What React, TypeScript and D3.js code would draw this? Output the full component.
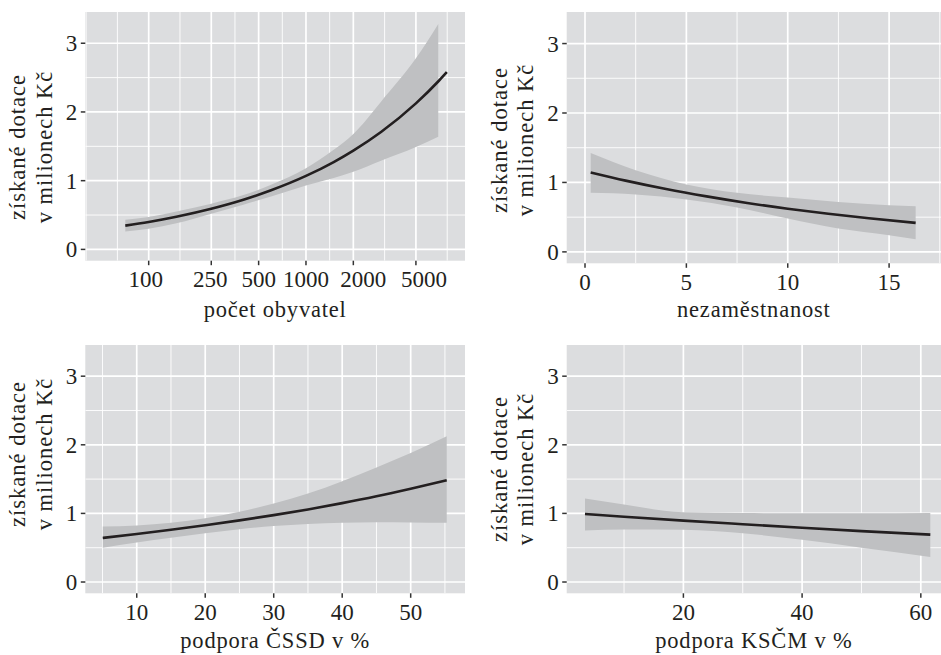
import React from "react";
import * as d3 from "d3";

// ---------- data ----------
const yTicks = [0, 1, 2, 3];
const yTitleLine1 = "získané dotace";
const yTitleLine2 = "v milionech Kč";

// panel 1: počet obyvatel (log scale)
const popTicks = [100, 250, 500, 1000, 2000, 5000];
const popX = [71, 100, 150, 250, 400, 600, 1000, 1500, 2000, 3000, 5000, 7000, 7870];
const popFit = [0.346, 0.4, 0.476, 0.592, 0.723, 0.86, 1.069, 1.271, 1.438, 1.709, 2.125, 2.454, 2.581];
const popBandX = [71, 100, 150, 250, 400, 600, 1000, 1500, 2000, 3000, 5000, 6935];
const popLow = [0.26, 0.3, 0.38, 0.52, 0.65, 0.77, 0.93, 1.04, 1.13, 1.29, 1.49, 1.64];
const popHigh = [0.43, 0.47, 0.55, 0.665, 0.79, 0.94, 1.18, 1.45, 1.68, 2.15, 2.78, 3.28];

// panel 2: nezaměstnanost
const unTicks = [0, 5, 10, 15];
const unX = [0.28, 2, 4, 6, 8, 10, 12, 14, 16.31];
const unFit = [1.143, 1.026, 0.905, 0.799, 0.704, 0.621, 0.548, 0.484, 0.418];
const unBandX = [0.28, 2.5, 5, 7.5, 10, 12.5, 15, 16.31];
const unLow = [0.85, 0.826, 0.754, 0.639, 0.48, 0.336, 0.24, 0.183];
const unHigh = [1.425, 1.176, 0.97, 0.85, 0.783, 0.72, 0.672, 0.658];

// panel 3: podpora ČSSD
const cssdTicks = [10, 20, 30, 40, 50];
const cssdX = [5.04, 10, 15, 20, 25, 30, 35, 40, 45, 50, 55.26];
const cssdFit = [0.642, 0.7, 0.762, 0.828, 0.898, 0.975, 1.058, 1.15, 1.25, 1.36, 1.483];
const cssdLow = [0.5, 0.575, 0.645, 0.71, 0.77, 0.815, 0.845, 0.862, 0.87, 0.868, 0.862];
const cssdHigh = [0.81, 0.825, 0.865, 0.93, 1.025, 1.145, 1.29, 1.47, 1.67, 1.88, 2.125];

// panel 4: podpora KSČM
const kscmTicks = [20, 40, 60];
const kscmX = [3.42, 10, 20, 30, 40, 50, 61.6];
const kscmFit = [0.992, 0.952, 0.895, 0.842, 0.79, 0.742, 0.69];
const kscmLow = [0.75, 0.765, 0.76, 0.71, 0.615, 0.5, 0.365];
const kscmHigh = [1.216, 1.128, 1.016, 1.005, 1.003, 1.002, 1.005];

// ---------- styling ----------
const BG = "#dcdddf";
const BAND = "#bfc0c2";
const LINE = "#231f20";
const TXT = "#231f20";
const FONT = "Liberation Serif";

type PanelDef = {
  id: string;
  left: number; right: number; top: number; bottom: number;
  log: boolean;
  xDomain: [number, number];
  ticks: number[];
  labelDx: number[];
  title: string;
  titleCenterY: number;
  titleBaseline: number;
  lineX: number[]; lineY: number[];
  bandX: number[]; bandLo: number[]; bandHi: number[];
};

const Y_DOMAIN: [number, number] = [-0.1645, 3.4545];

function minorBreaks(b: number[], dom: [number, number]) {
  const out: number[] = [];
  const bb = b.slice();
  const bd = bb[1] - bb[0];
  if (dom[0] < bb[0]) bb.unshift(bb[0] - bd);
  if (dom[1] > bb[bb.length - 1]) bb.push(bb[bb.length - 1] + bd);
  for (let i = 0; i < bb.length - 1; i++) {
    out.push(bb[i]);
    out.push((bb[i] + bb[i + 1]) / 2);
  }
  out.push(bb[bb.length - 1]);
  return out.filter((v) => v >= dom[0] && v <= dom[1] && !b.some((m) => Math.abs(m - v) < 1e-9));
}

function Panel({ p }: { p: PanelDef }) {
  const x: any = p.log
    ? d3.scaleLog().domain(p.xDomain).range([p.left, p.right])
    : d3.scaleLinear().domain(p.xDomain).range([p.left, p.right]);
  const y = d3.scaleLinear().domain(Y_DOMAIN).range([p.bottom, p.top]);

  const tf = p.log ? (v: number) => Math.log10(v) : (v: number) => v;
  const inv = p.log ? (v: number) => Math.pow(10, v) : (v: number) => v;
  const tDom: [number, number] = [tf(p.xDomain[0]), tf(p.xDomain[1])];
  const xMinor = minorBreaks(p.ticks.map(tf), tDom).map(inv);
  const yMinor = minorBreaks(yTicks, Y_DOMAIN);

  const line = d3
    .line<number>()
    .x((_, i) => x(p.lineX[i]))
    .y((v) => y(v))
    .curve(d3.curveMonotoneX);
  const area = d3
    .area<number>()
    .x((_, i) => x(p.bandX[i]))
    .y0((_, i) => y(p.bandLo[i]))
    .y1((_, i) => y(p.bandHi[i]))
    .curve(d3.curveMonotoneX);

  const w = p.right - p.left;
  const h = p.bottom - p.top;
  const cx = (p.left + p.right) / 2;

  return (
    <g>
      <defs>
        <clipPath id={"clip-" + p.id}>
          <rect x={p.left} y={p.top} width={w} height={h} />
        </clipPath>
      </defs>
      <rect x={p.left} y={p.top} width={w} height={h} fill={BG} />
      <g clipPath={`url(#clip-${p.id})`}>
        {yMinor.map((v) => (
          <line key={"ym" + v} x1={p.left} x2={p.right} y1={y(v)} y2={y(v)} stroke="#fff" strokeWidth={0.9} />
        ))}
        {xMinor.map((v) => (
          <line key={"xm" + v} x1={x(v)} x2={x(v)} y1={p.top} y2={p.bottom} stroke="#fff" strokeWidth={0.9} />
        ))}
        {yTicks.map((v) => (
          <line key={"yM" + v} x1={p.left} x2={p.right} y1={y(v)} y2={y(v)} stroke="#fff" strokeWidth={1.7} />
        ))}
        {p.ticks.map((v) => (
          <line key={"xM" + v} x1={x(v)} x2={x(v)} y1={p.top} y2={p.bottom} stroke="#fff" strokeWidth={1.7} />
        ))}
        <path d={area(p.bandLo) || ""} fill={BAND} />
        <path d={line(p.lineY) || ""} fill="none" stroke={LINE} strokeWidth={2.6} strokeLinecap="butt" />
      </g>
      {/* y axis */}
      {yTicks.map((v) => (
        <g key={"yt" + v}>
          <line x1={p.left - 4.5} x2={p.left} y1={y(v)} y2={y(v)} stroke="#333" strokeWidth={1.5} />
          <text x={p.left - 8} y={y(v) + 8} textAnchor="end" fontSize={23} fill={TXT} fontFamily={FONT}>
            {v}
          </text>
        </g>
      ))}
      {/* x axis */}
      {p.ticks.map((v, i) => (
        <g key={"xt" + v}>
          <line x1={x(v)} x2={x(v)} y1={p.bottom} y2={p.bottom + 4.5} stroke="#333" strokeWidth={1.5} />
          <text x={x(v) + (p.labelDx[i] || 0)} y={p.bottom + 26.5} textAnchor="middle" fontSize={23} fill={TXT} fontFamily={FONT}>
            {v}
          </text>
        </g>
      ))}
      <text x={cx} y={p.titleBaseline} textAnchor="middle" fontSize={22.5} fill={TXT} letterSpacing={0.8} fontFamily={FONT}>
        {p.title}
      </text>
      <g transform={`translate(${p.left - 60},${p.titleCenterY}) rotate(-90)`}>
        <text x={0} y={0} textAnchor="middle" fontSize={22.5} fill={TXT} letterSpacing={1} fontFamily={FONT}>
          {yTitleLine1}
        </text>
        <text x={0} y={26.7} textAnchor="middle" fontSize={22.5} fill={TXT} letterSpacing={1} fontFamily={FONT}>
          {yTitleLine2}
        </text>
      </g>
    </g>
  );
}

const panels: PanelDef[] = [
  {
    id: "p1", left: 85.3, right: 465, top: 12, bottom: 260.7, log: true,
    xDomain: [Math.pow(10, 1.597), Math.pow(10, 4.011)], ticks: popTicks,
    labelDx: [-3, -1, 0, 0, 10, 8],
    title: "počet obyvatel", titleCenterY: 147, titleBaseline: 316.5,
    lineX: popX, lineY: popFit, bandX: popBandX, bandLo: popLow, bandHi: popHigh,
  },
  {
    id: "p2", left: 566.7, right: 941, top: 12, bottom: 263.3, log: false,
    xDomain: [-0.903, 17.56], ticks: unTicks, labelDx: [],
    title: "nezaměstnanost", titleCenterY: 140, titleBaseline: 316.5,
    lineX: unX, lineY: unFit, bandX: unBandX, bandLo: unLow, bandHi: unHigh,
  },
  {
    id: "p3", left: 85.3, right: 465, top: 345, bottom: 593.3, log: false,
    xDomain: [2.49, 57.93], ticks: cssdTicks, labelDx: [],
    title: "podpora ČSSD v %", titleCenterY: 454, titleBaseline: 648.3,
    lineX: cssdX, lineY: cssdFit, bandX: cssdX, bandLo: cssdLow, bandHi: cssdHigh,
  },
  {
    id: "p4", left: 566.7, right: 941, top: 345, bottom: 593.3, log: false,
    xDomain: [0.34, 63.4], ticks: kscmTicks, labelDx: [],
    title: "podpora KSČM v %", titleCenterY: 469, titleBaseline: 648.3,
    lineX: kscmX, lineY: kscmFit, bandX: kscmX, bandLo: kscmLow, bandHi: kscmHigh,
  },
];

export default function App() {
  return (
    <svg
      width={941}
      height={655}
      viewBox="0 0 941 655"
      style={{ position: "absolute", left: 0, top: 0, background: "#fff" }}
    >
      <rect x={0} y={0} width={941} height={655} fill="#fff" />
      {panels.map((p) => (
        <Panel key={p.id} p={p} />
      ))}
    </svg>
  );
}
